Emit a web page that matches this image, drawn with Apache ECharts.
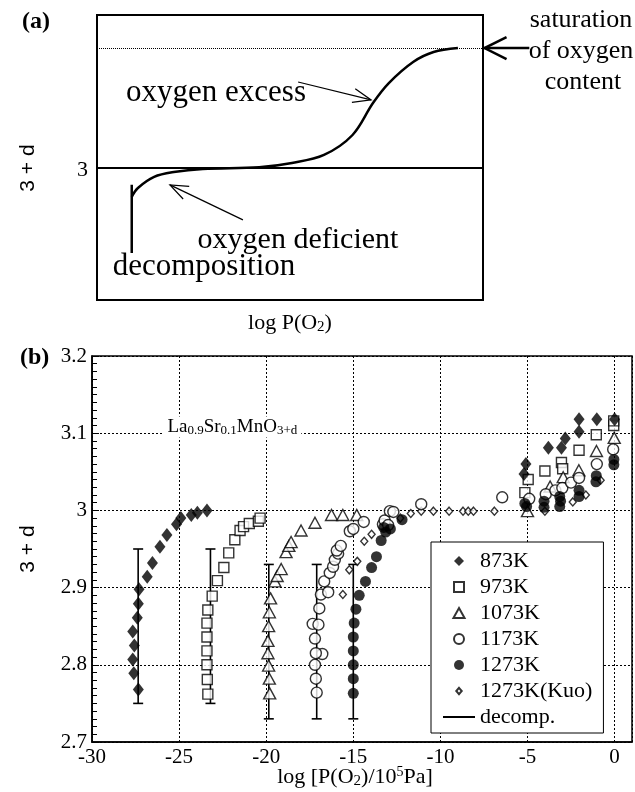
<!DOCTYPE html>
<html><head><meta charset="utf-8">
<script src="https://cdn.jsdelivr.net/npm/echarts@6/dist/echarts.min.js"></script>
<style>html,body{margin:0;padding:0;background:#fff}#c{width:635px;height:792px}</style>
</head><body><div id="c"></div>
<script>
// ===== Panel (a): schematic (arbitrary units, 0..100 on both axes) =====
var schemCurve = [[9.0,36.2],[10.6,39.3],[14.8,43.2],[19.9,44.9],[27.4,46.0],[42.0,46.6],[50.5,48.1],[58.8,50.9],[66.2,57.9],[71.5,69.1],[75.6,76.1],[81.9,83.5],[87.2,87.0],[93.5,88.4]];
var schemDecomp = [[9.0,16.5],[9.0,40.4]];
var levelStoich = 46.3;
var levelSat = 88.4;
var arrowExcess = [[52.1,76.5],[71.0,70.2]];
var arrowDeficient = [[37.8,28.1],[18.9,40.4]];
var arrowSat = [[112.0,88.4],[100.4,88.4]];

// ===== Panel (b): La0.9Sr0.1MnO3+d data  [log P(O2), 3+d] =====
var xTicks = [-30,-25,-20,-15,-10,-5,0];
var yTicks = [2.7,2.8,2.9,3.0,3.1,3.2];
var d873 = [[-27.34,2.768],[-27.60,2.789],[-27.66,2.807],[-27.57,2.825],[-27.66,2.843],[-27.40,2.861],[-27.34,2.879],[-27.30,2.898],
  [-26.83,2.914],[-26.53,2.932],[-26.10,2.953],[-25.70,2.968],[-25.15,2.982],[-24.90,2.990],[-24.30,2.994],[-23.95,2.997],[-23.40,3.000],
  [-5.20,3.047],[-5.09,3.060],[-3.80,3.081],[-3.05,3.081],[-2.83,3.093],[-2.04,3.102],[-2.04,3.118],[-1.02,3.118],[0.00,3.118]];
var d973 = [[-23.35,2.762],[-23.38,2.781],[-23.40,2.800],[-23.40,2.818],[-23.40,2.836],[-23.40,2.854],[-23.35,2.871],[-23.10,2.889],
  [-22.80,2.909],[-22.43,2.926],[-22.15,2.945],[-21.80,2.962],[-21.50,2.974],[-21.30,2.979],[-20.97,2.983],[-20.45,2.986],[-20.35,2.990],
  [-5.15,3.023],[-4.96,3.040],[-4.00,3.051],[-3.05,3.062],[-2.98,3.054],[-2.04,3.078],[-1.05,3.098],[-0.05,3.110],[-0.05,3.116]];
var d1073 = [[-19.80,2.763],[-19.82,2.782],[-19.86,2.799],[-19.90,2.815],[-19.90,2.831],[-19.86,2.850],[-19.82,2.868],[-19.75,2.886],
  [-19.50,2.908],[-19.37,2.915],[-19.14,2.924],[-18.86,2.946],[-18.70,2.954],[-18.57,2.959],[-18.00,2.974],[-17.20,2.984],[-16.25,2.994],[-15.60,2.994],[-14.80,2.994],
  [-5.00,2.999],[-3.70,3.031],[-2.95,3.043],[-2.05,3.052],[-1.04,3.077],[-0.02,3.094]];
var d1173 = [[-17.10,2.764],[-17.15,2.782],[-17.20,2.800],[-16.78,2.814],[-17.15,2.815],[-17.20,2.834],[-17.33,2.853],[-17.00,2.852],
  [-16.95,2.873],[-16.86,2.891],[-16.44,2.894],[-16.67,2.908],[-16.35,2.919],[-16.16,2.927],[-16.06,2.936],[-15.87,2.944],[-15.95,2.948],[-15.72,2.954],
  [-15.20,2.973],[-15.00,2.976],[-14.40,2.985],[-13.30,2.982],[-13.20,2.987],[-13.00,2.981],[-12.90,2.999],[-12.70,2.998],[-11.10,3.008],[-6.45,3.017],
  [-4.90,3.015],[-3.95,3.021],[-3.40,3.026],[-3.00,3.029],[-2.50,3.036],[-2.04,3.042],[-1.02,3.060],[-0.08,3.079]];
var d1273 = [[-15.00,2.763],[-15.00,2.782],[-15.00,2.800],[-15.00,2.818],[-15.00,2.836],[-14.95,2.854],[-14.85,2.872],[-14.66,2.890],
  [-14.30,2.908],[-13.95,2.926],[-13.67,2.940],[-13.40,2.961],[-13.14,2.972],[-12.87,2.976],[-13.25,2.978],[-12.20,2.988],
  [-5.15,3.009],[-5.05,3.005],[-4.05,3.004],[-4.05,3.012],[-3.15,3.005],[-3.10,3.012],[-3.15,3.018],[-2.04,3.018],[-2.04,3.026],
  [-1.07,3.037],[-1.05,3.045],[-0.04,3.059],[-0.04,3.066]];
var dKuo = [[-15.60,2.891],[-15.23,2.923],[-14.77,2.934],[-14.37,2.960],[-13.95,2.969],[-13.30,2.981],[-12.30,2.990],[-11.70,2.996],
  [-11.10,2.999],[-10.40,2.999],[-9.50,2.999],[-8.70,2.999],[-8.40,2.999],[-8.10,2.999],[-6.90,2.999],[-4.00,2.999],[-2.40,3.011],[-1.65,3.020],[-0.80,3.039]];
// decomposition bars: [log P(O2), low, high]
var decomp = [[-27.35,2.75,2.95],[-23.20,2.75,2.95],[-19.85,2.73,2.93],[-17.10,2.73,2.93],[-15.00,2.73,2.93]];
var formulaPos = [-25.9,3.108];

var SERIF = '"Liberation Serif","Times New Roman",serif';
var SANS = '"Liberation Sans",Arial,sans-serif';

var chart = echarts.init(document.getElementById('c'), null, {renderer:'canvas'});

function hollow(){ return {color:'#fff', borderColor:'#000', borderWidth:1.4}; }

var ICON = {
  diamond:'path://M5.5,0L11,5.5L5.5,11L0,5.5Z',
  square:'path://M0,0L10,0L10,10L0,10Z',
  triangle:'path://M5,0L10,9L0,9Z',
  circle:'path://M0,5A5,5,0,1,0,10,5A5,5,0,1,0,0,5Z',
  small:'path://M0,0M11,11M5.5,2L8.5,5.5L5.5,9L2.5,5.5Z',
  bar:'path://M0,0L32,0L32,2L0,2Z'
};

var option = {
  animation:false,
  backgroundColor:'#fff',
  grid:[
    {left:97, top:15, width:386, height:285, show:true, borderColor:'#000', borderWidth:2, outerBoundsMode:'none', containLabel:false},
    {left:92, top:356, width:540, height:386, show:true, borderColor:'#000', borderWidth:1.5, outerBoundsMode:'none', containLabel:false}
  ],
  xAxis:[
    {gridIndex:0, type:'value', min:0, max:100, show:false},
    {gridIndex:1, type:'value', min:xTicks[0], max:1, interval:5,
      axisLine:{show:true, onZero:false, lineStyle:{color:'#000', width:1.5}},
      axisTick:{show:false},
      axisLabel:{color:'#000', fontFamily:SERIF, fontSize:21, margin:5, showMaxLabel:false,
        formatter:function(v){ return xTicks.indexOf(v) >= 0 ? String(v) : ''; }},
      splitLine:{show:true, lineStyle:{color:'#000', width:1, type:[2,2]}}}
  ],
  yAxis:[
    {gridIndex:0, type:'value', min:0, max:100, show:false},
    {gridIndex:1, type:'value', min:yTicks[0], max:yTicks[yTicks.length-1], interval:0.1,
      axisLine:{show:true, onZero:false, lineStyle:{color:'#000', width:1.5}},
      axisTick:{show:true, inside:true, length:7, lineStyle:{color:'#000', width:1}},
      minorTick:{show:true, splitNumber:10, length:5, lineStyle:{color:'#000', width:1}},
      axisLabel:{color:'#000', fontFamily:SERIF, fontSize:21, margin:5,
        formatter:function(v){ return String(Math.round(v*10)/10); }},
      splitLine:{show:true, lineStyle:{color:'#000', width:1, type:[2,2]}}}
  ],
  legend:{
    orient:'vertical', left:431, top:542, backgroundColor:'#fff', borderColor:'#000', borderWidth:1,
    padding:[8,11,5,12], itemWidth:32, itemHeight:10, itemGap:4, symbolKeepAspect:true, z:20,
    textStyle:{color:'#000', fontFamily:SERIF, fontSize:22, lineHeight:20},
    data:[
      {name:'873K', icon:ICON.diamond},
      {name:'973K', icon:ICON.square},
      {name:'1073K', icon:ICON.triangle},
      {name:'1173K', icon:ICON.circle},
      {name:'1273K', icon:ICON.circle},
      {name:'1273K(Kuo)', icon:ICON.small},
      {name:'decomp.', icon:ICON.bar, itemStyle:{color:'#000'}}]
  },
  series:[
    {type:'line', xAxisIndex:0, yAxisIndex:0, data:schemCurve, smooth:0.35, showSymbol:false, silent:true,
      lineStyle:{color:'#000', width:2.5},
      markLine:{silent:true, symbol:'none', label:{show:false},
        data:[{yAxis:levelStoich, lineStyle:{color:'#000', type:'solid', width:2}},
              {yAxis:levelSat, lineStyle:{color:'#000', type:[1,1], width:1}}]}},
    {type:'line', xAxisIndex:0, yAxisIndex:0, data:schemDecomp, showSymbol:false, silent:true,
      lineStyle:{color:'#000', width:2.5}},
    {name:'decomp.', type:'custom', xAxisIndex:1, yAxisIndex:1, data:decomp, z:1, itemStyle:{color:'#000'},
      renderItem:function(params, api){
        var x = api.value(0), lo = api.value(1), hi = api.value(2);
        var p1 = api.coord([x, lo]), p2 = api.coord([x, hi]), w = 5;
        var st = {stroke:'#000', lineWidth:1.6};
        return {type:'group', children:[
          {type:'line', shape:{x1:p1[0], y1:p1[1], x2:p2[0], y2:p2[1]}, style:st},
          {type:'line', shape:{x1:p1[0]-w, y1:p1[1], x2:p1[0]+w, y2:p1[1]}, style:st},
          {type:'line', shape:{x1:p2[0]-w, y1:p2[1], x2:p2[0]+w, y2:p2[1]}, style:st}
        ]};
      }},
    {name:'1273K(Kuo)', type:'scatter', xAxisIndex:1, yAxisIndex:1, data:dKuo, symbol:'diamond', symbolSize:[7,8], itemStyle:hollow(), z:3},
    {name:'973K', type:'scatter', xAxisIndex:1, yAxisIndex:1, data:d973, symbol:'rect', symbolSize:10, itemStyle:hollow(), z:3},
    {name:'1073K', type:'scatter', xAxisIndex:1, yAxisIndex:1, data:d1073, symbol:'triangle', symbolSize:[12,11], itemStyle:hollow(), z:3},
    {name:'1173K', type:'scatter', xAxisIndex:1, yAxisIndex:1, data:d1173, symbol:'circle', symbolSize:11, itemStyle:hollow(), z:3},
    {name:'1273K', type:'scatter', xAxisIndex:1, yAxisIndex:1, data:d1273, symbol:'circle', symbolSize:11, itemStyle:{color:'#000'}, z:4},
    {name:'873K', type:'scatter', xAxisIndex:1, yAxisIndex:1, data:d873, symbol:'diamond', symbolSize:[11,14], itemStyle:{color:'#000'}, z:4}
  ]
};
chart.setOption(option);

function px(gi, p){ return chart.convertToPixel({gridIndex:gi}, p); }
function arrowEls(a, b, head, spread, lw){
  var dx=b[0]-a[0], dy=b[1]-a[1], L=Math.sqrt(dx*dx+dy*dy), ux=dx/L, uy=dy/L;
  var bx=b[0]-ux*head, by=b[1]-uy*head;
  var h1=[bx-uy*spread, by+ux*spread], h2=[bx+uy*spread, by-ux*spread];
  return [
    {type:'line', silent:true, shape:{x1:a[0],y1:a[1],x2:b[0],y2:b[1]}, style:{stroke:'#000', lineWidth:lw}},
    {type:'polyline', silent:true, shape:{points:[h1,b,h2]}, style:{stroke:'#000', lineWidth:lw, fill:null}}
  ];
}
function txt(x, y, t, size, opts){
  opts = opts || {};
  return {type:'text', x:x, y:y, rotation:opts.rot||0, silent:true, z:50,
    style:{text:t, fill:'#000', font:(opts.weight||'normal')+' '+size+'px '+(opts.family||SERIF),
      align:opts.align||'center', verticalAlign:opts.va||'middle', rich:opts.rich, backgroundColor:opts.bg, padding:opts.pad}};
}

var g = [];
g = g.concat(arrowEls(px(0,arrowExcess[0]), px(0,arrowExcess[1]), 18, 7, 1.2));
g = g.concat(arrowEls(px(0,arrowDeficient[0]), px(0,arrowDeficient[1]), 18, 7, 1.2));
g = g.concat(arrowEls(px(0,arrowSat[0]), px(0,arrowSat[1]), 22, 11, 2.5));

var p3 = px(0,[0,levelStoich]);
g.push(txt(22, 22, '(a)', 24, {weight:'bold', align:'left'}));
g.push(txt(88, p3[1]+2, '3', 22, {align:'right'}));
g.push(txt(28, p3[1], '3 + d', 21, {family:SANS, rot:Math.PI/2}));
g.push(txt(216, 93, 'oxygen excess', 31));
g.push(txt(298, 240, 'oxygen deficient', 30));
g.push(txt(204, 267, 'decomposition', 31));
g.push(txt(581, 20, 'saturation', 26));
g.push(txt(581, 51, 'of oxygen', 26));
g.push(txt(583, 82, 'content', 26));
g.push(txt(290, 323, '{n|log P(O}{s|2}{n|)}', 22, {rich:{n:{fontFamily:SERIF, fontSize:22}, s:{fontFamily:SERIF, fontSize:15, padding:[9,0,0,0]}}}));

g.push(txt(20, 358, '(b)', 24, {weight:'bold', align:'left'}));
g.push(txt(28, 549, '3 + d', 21, {family:SANS, rot:Math.PI/2}));
g.push(txt(355, 777, '{n|log [P(O}{s|2}{n|)/10}{u|5}{n|Pa]}', 22,
  {rich:{n:{fontFamily:SERIF, fontSize:22}, s:{fontFamily:SERIF, fontSize:15, padding:[9,0,0,0]}, u:{fontFamily:SERIF, fontSize:14, padding:[0,0,10,0]}}}));
var fp = px(1, formulaPos);
g.push(txt(fp[0], fp[1], '{n|La}{s|0.9}{n|Sr}{s|0.1}{n|MnO}{s|3+d}', 19,
  {align:'left', bg:'#fff', pad:[0,4,0,4],
   rich:{n:{fontFamily:SERIF, fontSize:19}, s:{fontFamily:SERIF, fontSize:13, padding:[8,0,0,0]}}}));

chart.setOption({graphic:{elements:g}});
</script></body></html>
